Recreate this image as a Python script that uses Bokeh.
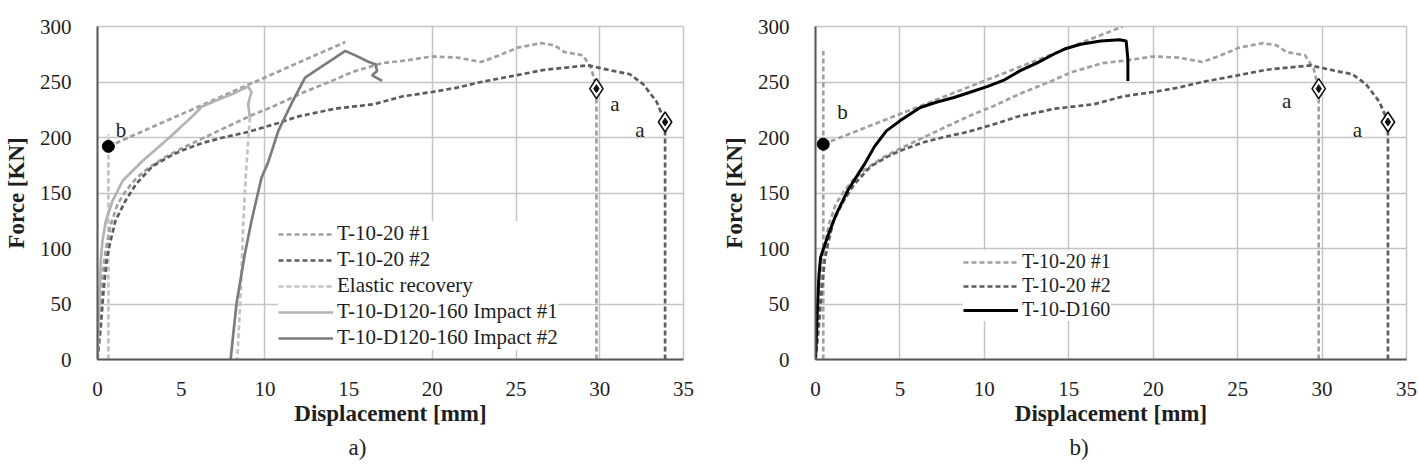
from bokeh.plotting import figure
from bokeh.layouts import row
from bokeh.models import Legend, LegendItem, Label, FixedTicker, Range1d, Title
from bokeh.embed import file_html
from bokeh.resources import INLINE

# ---------------------------------------------------------------- data
# quasi-static tension tests (displacement in mm, force in kN)
t1_disp = [0, 0.15, 0.3, 0.5, 0.8, 1.2, 1.7, 2.3, 3.0, 4.0, 5.0, 6.25, 7.5, 9.2,
           10.5, 12.2, 14.0, 15.2, 17.0, 18.2, 20.0, 21.5, 22.9, 24.0, 25.1,
           26.5, 27.3, 27.9, 29.0, 29.5, 29.8]
t1_force = [0, 40, 75, 100, 122, 140, 152, 163, 172, 182, 190, 199, 208, 220,
            228, 240, 251, 259, 267, 269, 273, 272, 268, 274, 281,
            285, 283, 277, 274, 262, 244]

t2_disp = [0, 0.2, 0.35, 0.55, 0.75, 1.07, 1.67, 2.3, 3.27, 4.3, 5.0, 6.25, 7.5,
           9.0, 10.8, 12.0, 14.2, 16.5, 18.2, 20.0, 21.5, 22.9, 25.0, 26.7,
           28.0, 29.3, 29.9, 30.8, 31.8, 32.6, 33.4, 33.9]
t2_force = [0, 30, 60, 90, 105, 125, 143, 158, 174, 183, 188, 195, 200,
            205, 213, 219, 226, 230, 237, 241, 245, 250, 256, 261,
            263, 265, 263, 260, 257, 248, 232, 214]

# failure points "a" of the two tension tests
fail_disp = [29.8, 33.9]
fail_force = [244, 214]

# first impact specimen, loading branch and elastic recovery
imp1_disp = [0, 0.1, 0.2, 0.3, 0.5, 0.9, 1.5, 2.7, 4.3, 5.8, 6.25, 7.2, 8.2,
             8.7, 9.0, 9.2, 9.1, 9.0, 9.05, 9.1]
imp1_force = [0, 50, 90, 107, 125, 143, 161, 179, 200, 221, 228, 234, 240,
              244, 246, 241, 236, 230, 224, 218]
rec_disp = [9.1, 8.85, 8.7, 8.55, 8.35]
rec_force = [218, 164, 120, 60, 0]

# second impact specimen (reloaded from the residual displacement)
imp2_disp = [7.95, 8.3, 8.8, 9.2, 9.8, 10.2, 10.8, 11.6, 12.4, 13.2, 14.2,
             14.8, 15.4, 16.2, 16.6, 16.7, 16.4, 17.0]
imp2_force = [0, 50, 95, 125, 164, 178, 206, 231, 254, 262, 272,
              278, 274, 268, 266, 260, 256, 251]

# T-10-D160 specimen
d160_disp = [0, 0.1, 0.2, 0.3, 0.7, 1.2, 1.9, 2.9, 3.5, 4.2, 5.0, 6.2, 7.2,
             8.2, 9.2, 10.2, 11.2, 12.1, 13.1, 14.1, 14.8, 15.7, 16.9, 18.0,
             18.4, 18.5, 18.5]
d160_force = [0, 40, 75, 92, 110, 130, 152, 176, 192, 206, 215, 227, 232,
              236, 241, 246, 252, 260, 267, 275, 280, 284, 287, 288,
              287, 270, 251]

# yield point "b" and post-yield stiffness lines
b_a_disp = [0.65, 14.8]
b_a_force = [192, 286]
b_a_vert_top = 203
b_b_disp = [0.46, 18.2]
b_b_force = [194, 300]
b_b_vert_top = 278

x_ticks = [0, 5, 10, 15, 20, 25, 30, 35]
y_ticks = [0, 50, 100, 150, 200, 250, 300]

# ---------------------------------------------------------------- style
FONT = "Liberation Serif"
GRID = "#c4c4c4"
AXIS = "#595959"
TXT = "#1e1e1e"
C_T1 = "#a0a0a0"
C_T2 = "#5c5c5c"
C_REC = "#c2c2c2"
C_IMP1 = "#b3b3b3"
C_IMP2 = "#7c7c7c"
DASH = "5 3"
LW = 2.7


def base_fig(left, right, xgrid, ygrid):
    p = figure(width=709, height=472, x_range=Range1d(0, 35), y_range=Range1d(0, 300),
               output_backend="svg", toolbar_location=None,
               min_border_left=left, min_border_right=right,
               min_border_top=26, min_border_bottom=113)
    p.background_fill_color = "white"
    p.border_fill_color = "white"
    p.outline_line_color = GRID
    p.outline_line_width = 1.5
    p.xaxis.ticker = FixedTicker(ticks=x_ticks)
    p.yaxis.ticker = FixedTicker(ticks=y_ticks)
    p.xgrid.ticker = FixedTicker(ticks=xgrid)
    p.ygrid.ticker = FixedTicker(ticks=ygrid)
    p.grid.grid_line_color = GRID
    p.grid.grid_line_width = 1.5
    for ax in p.axis:
        ax.axis_line_color = AXIS
        ax.axis_line_width = 2
        ax.major_tick_line_color = None
        ax.minor_tick_line_color = None
        ax.major_label_text_font = FONT
        ax.major_label_text_font_size = "21px"
        ax.major_label_text_color = TXT
        ax.axis_label_text_font = FONT
        ax.axis_label_text_font_size = "23px"
        ax.axis_label_text_font_style = "bold"
        ax.axis_label_text_color = TXT
    p.xaxis.major_label_standoff = 16
    p.yaxis.major_label_standoff = 20
    p.xaxis.axis_label = "Displacement [mm]"
    p.yaxis.axis_label = "Force [KN]"
    p.xaxis.axis_label_standoff = 2
    p.yaxis.axis_label_standoff = 8
    return p


def failure_marks(p):
    p.segment(x0=fail_disp[:1], y0=[0], x1=fail_disp[:1], y1=fail_force[:1],
              line_color=C_T1, line_width=LW, line_dash=DASH)
    p.segment(x0=fail_disp[1:], y0=[0], x1=fail_disp[1:], y1=fail_force[1:],
              line_color=C_T2, line_width=LW, line_dash=DASH)
    p.scatter(fail_disp, fail_force, marker="diamond", size=20,
              fill_color="white", line_color="#111111", line_width=1.6)
    p.scatter(fail_disp, fail_force, marker="diamond", size=8,
              fill_color="#111111", line_color="#111111")


def text_label(p, x, y, s, size="21px"):
    p.add_layout(Label(x=x, y=y, text=s, text_font=FONT, text_font_size=size,
                       text_color=TXT, text_align="center", text_baseline="middle"))


def caption(p, s, offset):
    p.add_layout(Title(text=s, align="left", offset=offset, standoff=8,
                       text_font=FONT, text_font_size="23px",
                       text_font_style="normal", text_color=TXT), "below")


def make_legend(p, items, loc, size):
    leg = Legend(items=items, location=loc, margin=0, padding=10, spacing=1,
                 glyph_width=55, glyph_height=20, label_standoff=4, label_height=20,
                 label_text_font=FONT, label_text_font_size=size,
                 label_text_color=TXT, background_fill_color="white",
                 background_fill_alpha=1.0, border_line_color=None)
    p.add_layout(leg)


# ---------------------------------------------------------------- panel a
pa = base_fig(95, 26, [10, 20, 25, 30], [50, 150, 200, 250, 300])

pa.segment(x0=b_a_disp[:1], y0=[0], x1=b_a_disp[:1], y1=[b_a_vert_top],
           line_color=C_REC, line_width=LW, line_dash=DASH)
pa.line(b_a_disp, b_a_force, line_color=C_T1, line_width=LW, line_dash=DASH)
ra1 = pa.line(t1_disp, t1_force, line_color=C_T1, line_width=LW, line_dash=DASH)
ra2 = pa.line(t2_disp, t2_force, line_color=C_T2, line_width=LW, line_dash=DASH)
ra3 = pa.line(rec_disp, rec_force, line_color=C_REC, line_width=LW, line_dash=DASH)
ra4 = pa.line(imp1_disp, imp1_force, line_color=C_IMP1, line_width=LW)
ra5 = pa.line(imp2_disp, imp2_force, line_color=C_IMP2, line_width=LW)
failure_marks(pa)
pa.scatter(b_a_disp[:1], b_a_force[:1], marker="circle", size=12,
           fill_color="black", line_color="black")

text_label(pa, 1.4, 207, "b")
text_label(pa, 30.9, 230, "a")
text_label(pa, 32.4, 207, "a")
caption(pa, "a)", 251)

make_legend(pa, [
    LegendItem(label="T-10-20 #1", renderers=[ra1]),
    LegendItem(label="T-10-20 #2", renderers=[ra2]),
    LegendItem(label="Elastic recovery", renderers=[ra3]),
    LegendItem(label="T-10-D120-160 Impact #1", renderers=[ra4]),
    LegendItem(label="T-10-D120-160 Impact #2", renderers=[ra5]),
], (181, 9), "21px")

# ---------------------------------------------------------------- panel b
pb = base_fig(106, 12, [5, 10, 15, 20, 25, 30], [50, 100, 150, 200, 250, 300])

pb.segment(x0=b_b_disp[:1], y0=[0], x1=b_b_disp[:1], y1=[b_b_vert_top],
           line_color=C_T1, line_width=LW, line_dash=DASH)
pb.line(b_b_disp, b_b_force, line_color=C_T1, line_width=LW, line_dash=DASH)
rb1 = pb.line(t1_disp, t1_force, line_color=C_T1, line_width=LW, line_dash=DASH)
rb2 = pb.line(t2_disp, t2_force, line_color=C_T2, line_width=LW, line_dash=DASH)
rb3 = pb.line(d160_disp, d160_force, line_color="black", line_width=3)
failure_marks(pb)
pb.scatter(b_b_disp[:1], b_b_force[:1], marker="circle", size=12,
           fill_color="black", line_color="black")

text_label(pb, 1.6, 223, "b")
text_label(pb, 27.9, 233, "a")
text_label(pb, 32.1, 207, "a")
caption(pb, "b)", 254)

make_legend(pb, [
    LegendItem(label="T-10-20 #1", renderers=[rb1]),
    LegendItem(label="T-10-20 #2", renderers=[rb2]),
    LegendItem(label="T-10-D160", renderers=[rb3]),
], (148, 38), "20px")

layout = row(pa, pb)
open("out.html", "w").write(file_html(layout, INLINE))
